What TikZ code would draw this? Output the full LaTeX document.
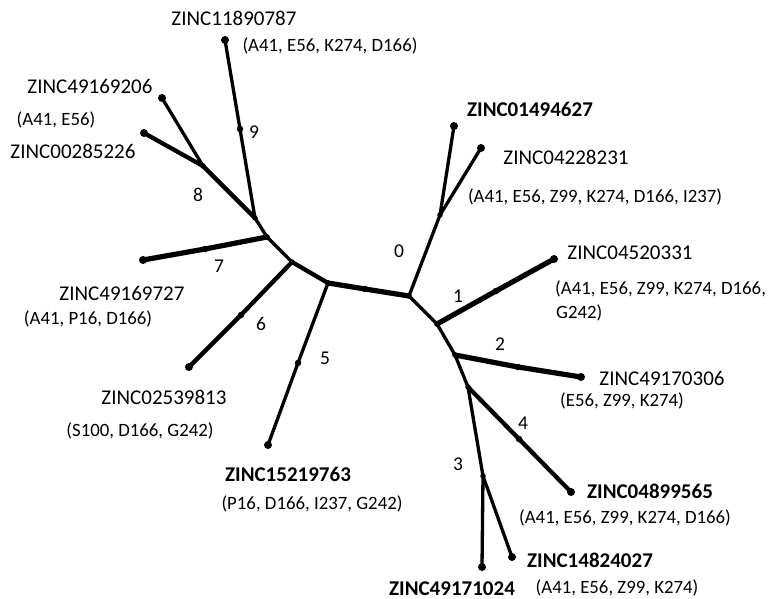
\documentclass[tikz,border=0pt]{standalone}
\usepackage{fontspec}
\setmainfont{Carlito}
\begin{document}
\begin{tikzpicture}[x=1pt,y=-1pt,
  dot/.style={circle,fill=black,inner sep=0pt,minimum size=6.5pt},
  leaf/.style={circle,fill=black,inner sep=0pt,minimum size=8pt},
  jn/.style={circle,fill=black,inner sep=0pt,minimum size=5.5pt},
  br/.style={line width=3.3pt,line cap=round,line join=round},
  brt/.style={line width=4.3pt,line cap=round,line join=round},
  brw/.style={line width=5.2pt,line cap=round,line join=round},
  lab/.style={anchor=base,inner sep=0pt,font=\fontsize{21}{24}\selectfont},
  blab/.style={lab,font=\fontsize{21}{24}\selectfont\bfseries},
  plab/.style={anchor=base,inner sep=0pt,font=\fontsize{18.8}{22}\selectfont},
  nlab/.style={anchor=base,inner sep=0pt,font=\fontsize{19.5}{22}\selectfont}]
\useasboundingbox (0,0) rectangle (769,599);
% junctions
\node[jn] (A) at (409,296) {};
\node[jn] (B) at (440,215) {};
\node[jn] (C) at (437,324) {};
\node[jn] (D) at (455,355) {};
\node[jn] (E) at (468,387) {};
\node[jn] (F) at (483,476) {};
\node[jn] (G) at (328,283) {};
\node[jn] (H) at (292,262) {};
\node[jn] (I) at (267,237) {};
\node[jn] (J) at (255,218) {};
\node[jn] (K) at (203,166) {};
% mid dots
\node[dot] (M0) at (365,289) {};
\node[dot] (M1) at (496,291) {};
\node[dot] (M2) at (518,367) {};
\node[dot] (M4) at (519,439) {};
\node[dot] (M5) at (298,363) {};
\node[dot] (M6) at (241,315) {};
\node[dot] (M7) at (205,249) {};
\node[dot] (M9) at (240,129) {};
% leaves
\node[leaf] (L0a) at (454,126) {};
\node[leaf] (L0b) at (481,148) {};
\node[leaf] (L1) at (554,259) {};
\node[leaf] (L2) at (581,377) {};
\node[leaf] (L4) at (571,492) {};
\node[leaf] (L3a) at (482,567) {};
\node[leaf] (L3b) at (512,557) {};
\node[leaf] (L5) at (268,445) {};
\node[leaf] (L6) at (189,367) {};
\node[leaf] (L7) at (143,260) {};
\node[leaf] (L9) at (225,40) {};
\node[leaf] (L8a) at (162,98) {};
\node[leaf] (L8b) at (144,133) {};
% branches
\draw[br] (A.center) -- (B.center);
\draw[br] (B.center) -- (L0a.center);
\draw[br] (B.center) -- (L0b.center);
\draw[br] (A.center) -- (C.center);
\draw[brw] (C.center) -- (M1.center) -- (L1.center);
\draw[br] (C.center) -- (D.center);
\draw[brw] (D.center) -- (M2.center) -- (L2.center);
\draw[br] (D.center) -- (E.center);
\draw[brt] (E.center) -- (M4.center) -- (L4.center);
\draw[br] (E.center) -- (F.center);
\draw[br] (F.center) -- (L3a.center);
\draw[br] (F.center) -- (L3b.center);
\draw[brw] (A.center) -- (M0.center) -- (G.center);
\draw[br] (G.center) -- (M5.center) -- (L5.center);
\draw[brt] (G.center) -- (H.center);
\draw[brt] (H.center) -- (M6.center) -- (L6.center);
\draw[br] (H.center) -- (I.center);
\draw[brw] (I.center) -- (M7.center) -- (L7.center);
\draw[br] (I.center) -- (J.center);
\draw[br] (J.center) -- (M9.center) -- (L9.center);
\draw[brt] (J.center) -- (K.center);
\draw[br] (K.center) -- (L8a.center);
\draw[brt] (K.center) -- (L8b.center);
% labels
\node[lab] (t9a) at (234,26) {ZINC11890787};
\node[plab] (t9b) at (330,52) {(A41, E56, K274, D166)};
\node[nlab] (n9) at (254,139) {9};
\node[lab] (t8a) at (90,94) {ZINC49169206};
\node[plab] (t8b) at (56,126) {(A41, E56)};
\node[lab] (t8c) at (73,159) {ZINC00285226};
\node[nlab] (n8) at (198,202) {8};
\node[blab] (t0a) at (530,117) {ZINC01494627};
\node[lab] (t0b) at (566,165) {ZINC04228231};
\node[plab] (t0c) at (595,203) {(A41, E56, Z99, K274, D166, I237)};
\node[nlab] (n0) at (399,258) {0};
\node[lab] (t1a) at (630,259) {ZINC04520331};
\node[plab,anchor=base west] (t1b) at (555,294) {(A41, E56, Z99, K274, D166,};
\node[plab,anchor=base west] (t1c) at (556,318) {G242)};
\node[nlab] (n1) at (458,302) {1};
\node[nlab] (n2) at (500,350) {2};
\node[lab] (t2a) at (662,385) {ZINC49170306};
\node[plab] (t2b) at (622,406) {(E56, Z99, K274)};
\node[nlab] (n4) at (523,429) {4};
\node[nlab] (n3) at (458,470) {3};
\node[blab] (t4a) at (650,498) {ZINC04899565};
\node[plab] (t4b) at (625,523) {(A41, E56, Z99, K274, D166)};
\node[blab] (t3a) at (590,567) {ZINC14824027};
\node[plab] (t3b) at (617,593) {(A41, E56, Z99, K274)};
\node[blab] (t3c) at (452,595) {ZINC49171024};
\node[nlab] (n7) at (219,272) {7};
\node[lab] (t7a) at (122,300) {ZINC49169727};
\node[plab] (t7b) at (88,324) {(A41, P16, D166)};
\node[nlab] (n6) at (261,330) {6};
\node[nlab] (n5) at (325,364) {5};
\node[lab] (t6a) at (164,404) {ZINC02539813};
\node[plab] (t6b) at (140,436) {(S100, D166, G242)};
\node[blab] (t5a) at (288,481) {ZINC15219763};
\node[plab] (t5b) at (312,509) {(P16, D166, I237, G242)};
\end{tikzpicture}
\end{document}
